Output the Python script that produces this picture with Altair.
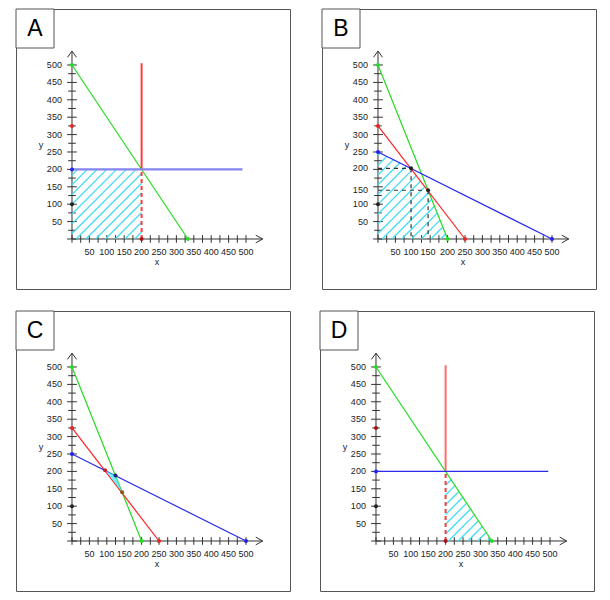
import math
import altair as alt
import pandas as pd

# ---------------- data ----------------
GREEN = "#22dd22"
RED = "#ff2020"
BLUE = "#2a2aee"
LBLUE = "#8585f0"
HATCH = "#44ddf0"
AX = "#333333"

x_tick_vals = [0, 25, 50, 75, 100, 125, 150, 175, 200, 225, 250, 275, 300, 325, 350, 375, 400, 425, 450, 475, 500]
y_tick_vals = [0, 25, 50, 75, 100, 125, 150, 175, 200, 225, 250, 275, 300, 325, 350, 375, 400, 425, 450, 475, 500]
label_text = ["50", "100", "150", "200", "250", "300", "350", "400", "450", "500"]
label_pos = [50, 100, 150, 200, 250, 300, 350, 400, 450, 500]
# panel B places some labels at the corner points
label_pos_Bx = [50, 95, 144, 200, 250, 300, 350, 400, 450, 500]
label_pos_By = [50, 100, 140, 203, 250, 300, 350, 400, 450, 500]

# Panel A
A_solid = [(0, 500, 333, 0, GREEN, 1.2), (200, 200, 200, 505, "#ff3a3a", 2.0), (0, 200, 490, 200, LBLUE, 2.4)]
A_dashed = [(200, 0, 200, 200, "#ff3a3a", 2.0)]
A_hatch = [(0, 0), (0, 200), (200, 200), (200, 0)]
A_points = [(0, 500, GREEN), (333, 0, GREEN), (0, 325, "#ee2222"), (0, 200, "#2222ee"), (0, 100, "#222222"), (200, 0, "#aa1111")]

# Panel B
B_solid = [(0, 500, 200, 0, GREEN, 1.2), (0, 325, 250, 0, RED, 1.2), (0, 250, 500, 0, BLUE, 1.2)]
B_dashed = [(0, 203, 95, 203, AX, 1.2), (95, 203, 95, 0, AX, 1.2), (0, 140, 144, 140, AX, 1.2), (144, 140, 144, 0, AX, 1.2)]
B_hatch = [(0, 0), (0, 250), (95, 203), (144, 140), (200, 0)]
B_points = [(0, 500, GREEN), (200, 0, GREEN), (0, 325, "#ee2222"), (250, 0, "#ee2222"), (0, 250, "#2222ee"), (500, 0, "#2222ee"),
            (95, 203, "#222222"), (144, 140, "#222222"), (0, 100, "#222222")]

# Panel C
C_solid = [(0, 500, 200, 0, GREEN, 1.2), (0, 325, 250, 0, RED, 1.2), (0, 250, 500, 0, BLUE, 1.2)]
C_fill_x = [95, 125, 144]
C_fill_top = [203, 188, 140]
C_fill_bottom = [203, 164, 140]
C_points = [(0, 500, GREEN), (200, 0, GREEN), (0, 325, "#ee2222"), (250, 0, "#ee2222"), (0, 250, "#2222ee"), (500, 0, "#2222ee"),
            (95, 203, "#cc2222"), (125, 188, "#222288"), (144, 140, "#885522"), (0, 100, "#222222")]

# Panel D
D_solid = [(0, 500, 333, 0, GREEN, 1.2), (200, 200, 200, 505, "#ff6a6a", 2.0), (0, 200, 495, 200, BLUE, 1.2)]
D_dashed = [(200, 0, 200, 200, "#ff3a3a", 2.0)]
D_hatch = [(200, 0), (200, 200), (333, 0)]
D_points = [(0, 500, GREEN), (333, 0, GREEN), (0, 325, "#aa1111"), (0, 200, "#2222ee"), (0, 100, "#222222"), (200, 0, "#aa1111")]

# ---------------- geometry helpers ----------------
XD = [-160.9, 626.4]
YD = [-143.7, 660.9]
W, H = 274, 280
FONT = "Liberation Sans"


def sx():
    return alt.Scale(domain=XD, nice=False, zero=False)


def sy():
    return alt.Scale(domain=YD, nice=False, zero=False)


def seg_layers(rows, dash=None):
    """One rule layer per (colour, width) group, styles as mark properties."""
    df = pd.DataFrame(rows, columns=["x", "y", "x2", "y2", "c", "w"])
    out = []
    for (c, w), g in df.groupby(["c", "w"], sort=False):
        kw = dict(strokeCap="butt", color=c, strokeWidth=float(w))
        if dash:
            kw["strokeDash"] = dash
        out.append(alt.Chart(g[["x", "y", "x2", "y2"]].reset_index(drop=True)).mark_rule(**kw).encode(
            x=alt.X("x:Q", scale=sx(), axis=None),
            y=alt.Y("y:Q", scale=sy(), axis=None),
            x2="x2:Q", y2="y2:Q",
        ))
    return out


def hatch(poly, c0=12, step=28):
    vals = [p[0] - p[1] for p in poly]
    lo, hi = min(vals), max(vals)
    k0 = math.ceil((lo - c0) / step)
    k1 = math.floor((hi - c0) / step)
    rows = []
    n = len(poly)
    for k in range(k0, k1 + 1):
        c = c0 + k * step
        pts = []
        for i in range(n):
            (x1, y1), (x2, y2) = poly[i], poly[(i + 1) % n]
            f1 = x1 - y1 - c
            f2 = x2 - y2 - c
            if f1 == f2:
                continue
            if (f1 <= 0 <= f2) or (f2 <= 0 <= f1):
                t = f1 / (f1 - f2)
                pts.append((x1 + t * (x2 - x1), y1 + t * (y2 - y1)))
        if len(pts) >= 2:
            pts.sort()
            a, b = pts[0], pts[-1]
            if abs(a[0] - b[0]) + abs(a[1] - b[1]) > 1e-6:
                rows.append((a[0], a[1], b[0], b[1], HATCH, 1.3))
    return rows


def axes_rows():
    rows = [(0, 0, 548, 0, AX, 1), (0, 0, 0, 540, AX, 1),
            (548, 0, 528, 11, AX, 1), (548, 0, 528, -11, AX, 1),
            (0, 540, -13, 522, AX, 1), (0, 540, 13, 522, AX, 1)]
    for v in x_tick_vals:
        rows.append((v, -11, v, 11, AX, 1))
    for v in y_tick_vals:
        L = 14 if v % 50 == 0 else 11
        rows.append((-L, v, L, v, AX, 1))
    return rows


def text_layer(xs, ys, ts, align, size=9):
    df = pd.DataFrame({"x": xs, "y": ys, "t": ts})
    return alt.Chart(df).mark_text(align=align, baseline="middle", fontSize=size, font=FONT, color="#222").encode(
        x=alt.X("x:Q", scale=sx(), axis=None), y=alt.Y("y:Q", scale=sy(), axis=None), text="t:N")


def points_layers(pts):
    df = pd.DataFrame(pts, columns=["x", "y", "c"])
    out = []
    for c, g in df.groupby("c", sort=False):
        out.append(alt.Chart(g[["x", "y"]].reset_index(drop=True)).mark_circle(size=16, opacity=1, color=c).encode(
            x=alt.X("x:Q", scale=sx(), axis=None), y=alt.Y("y:Q", scale=sy(), axis=None)))
    return out


def panel(name, solid, dashed, hatch_poly, points, xpos, ypos, fill=None, dash_pat=(4, 3)):
    layers = seg_layers(axes_rows())
    layers.append(text_layer(xpos, [-37] * len(xpos), label_text, "center"))
    layers.append(text_layer([-29] * len(ypos), ypos, label_text, "right"))
    layers.append(text_layer([244], [-66], ["x"], "center"))
    layers.append(text_layer([-89], [270], ["y"], "center"))
    if hatch_poly is not None:
        layers += seg_layers(hatch(hatch_poly))
    layers += seg_layers(solid)
    if dashed:
        layers += seg_layers(dashed, dash=list(dash_pat))
    if fill is not None:
        fx, ft, fb = fill
        fdf = pd.DataFrame({"x": fx, "y": ft, "y2": fb})
        layers.append(alt.Chart(fdf).mark_area(color="#44e8f8", opacity=0.75).encode(
            x=alt.X("x:Q", scale=sx(), axis=None), y=alt.Y("y:Q", scale=sy(), axis=None), y2="y2:Q"))
    layers += points_layers(points)
    lab = pd.DataFrame({"t": [name]})
    layers.append(alt.Chart(lab).mark_rect(fill="white", stroke="#555", strokeWidth=1).encode(
        x=alt.value(0), x2=alt.value(38), y=alt.value(0), y2=alt.value(39)))
    layers.append(alt.Chart(lab).mark_text(align="center", baseline="alphabetic", fontSize=23, font=FONT, color="black").encode(
        x=alt.value(19), y=alt.value(27), text="t:N"))
    return alt.layer(*layers).properties(width=W, height=H)


pA = panel("A", A_solid, A_dashed, A_hatch, A_points, label_pos, label_pos)
pB = panel("B", B_solid, B_dashed, B_hatch, B_points, label_pos_Bx, label_pos_By, dash_pat=(4, 4))
pC = panel("C", C_solid, None, None, C_points, label_pos, label_pos, fill=(C_fill_x, C_fill_top, C_fill_bottom))
pD = panel("D", D_solid, D_dashed, D_hatch, D_points, label_pos, label_pos)

chart = alt.vconcat(
    alt.hconcat(pA, pB, spacing=30),
    alt.hconcat(pC, pD, spacing=28),
    spacing=20,
).properties(
    padding={"left": 7, "top": 0, "right": 5, "bottom": 5}
).configure_view(stroke="#555", strokeWidth=1)

chart.save("out.html", embed_options={"renderer": "svg", "actions": False})
